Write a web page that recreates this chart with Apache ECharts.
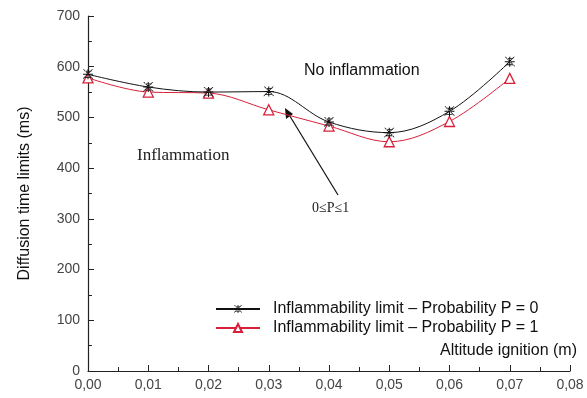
<!DOCTYPE html>
<html><head><meta charset="utf-8">
<script src="https://cdn.jsdelivr.net/npm/echarts@6/dist/echarts.min.js"></script>
<style>html,body{margin:0;padding:0;background:#fff}#c{width:587px;height:398px}</style>
</head><body><div id="c"></div>
<script>
const altitudes = [0.00, 0.01, 0.02, 0.03, 0.04, 0.05, 0.06, 0.07];
const limitP0 = [585, 560, 550, 551, 491, 470, 512, 610];
const limitP1 = [578, 550, 548, 515, 483, 452, 492, 577];
const seriesNames = ['Inflammability limit \u2013 Probability P = 0', 'Inflammability limit \u2013 Probability P = 1'];

const chart = echarts.init(document.getElementById('c'));
const font = '"Liberation Sans", Arial, sans-serif';
const crossPath = 'path://M0,0L10,10L10,9L1,0ZM10,0L0,10L0,9L9,0ZM0,4.5L10,4.5L10,5.5L0,5.5ZM4.5,0L5.5,0L5.5,10L4.5,10ZM1.5,1.5L8.5,1.5L8.5,2.3L1.5,2.3ZM1.5,7.7L8.5,7.7L8.5,8.5L1.5,8.5Z';
chart.setOption({
  animation: false,
  grid: {left: 88, right: 17, top: 16, bottom: 27},
  xAxis: {
    type: 'value', min: 0, max: 0.08, interval: 0.01,
    name: 'Altitude ignition (m)', nameLocation: 'end',
    nameGap: 7,
    nameTextStyle: {fontFamily: font, fontSize: 16, color: '#111', align: 'right', verticalAlign: 'bottom', padding: [0, 0, 12, 0]},
    axisLine: {lineStyle: {color: '#222', width: 1.2}},
    axisTick: {inside: true, length: 6, lineStyle: {color: '#222'}},
    minorTick: {show: true, splitNumber: 2, length: 4, lineStyle: {color: '#222'}},
    axisLabel: {fontFamily: font, fontSize: 14, color: '#444', margin: 7,
      formatter: v => v.toFixed(2).replace('.', ',')},
    splitLine: {show: false}
  },
  yAxis: {
    type: 'value', min: 0, max: 700, interval: 100,
    name: 'Diffusion time limits (ms)', nameLocation: 'middle', nameGap: 55,
    nameTextStyle: {fontFamily: font, fontSize: 16, color: '#111'},
    axisLine: {show: true, lineStyle: {color: '#222', width: 1.2}},
    axisTick: {show: true, inside: true, length: 6, lineStyle: {color: '#222'}},
    minorTick: {show: true, splitNumber: 2, length: 4, lineStyle: {color: '#222'}},
    axisLabel: {fontFamily: font, fontSize: 14, color: '#444', margin: 8},
    splitLine: {show: false}
  },
  legend: {
    orient: 'vertical', left: 215, top: 300, itemGap: 1, padding: 0,
    itemWidth: 44, itemHeight: 10,
    textStyle: {fontFamily: font, fontSize: 16, color: '#111', lineHeight: 18, padding: [0, 0, 0, 8]},
    data: seriesNames
  },
  series: [
    {
      name: seriesNames[0], type: 'line', smooth: 0.35,
      data: altitudes.map((x, i) => [x, limitP0[i]]),
      symbol: crossPath, symbolSize: 10,
      lineStyle: {color: '#111', width: 1},
      itemStyle: {color: '#111', borderWidth: 0},
      z: 3
    },
    {
      name: seriesNames[1], type: 'line', smooth: 0.35,
      data: altitudes.map((x, i) => [x, limitP1[i]]),
      symbol: 'triangle', symbolSize: 10,
      lineStyle: {color: '#d8203a', width: 1},
      itemStyle: {color: '#fff', borderColor: '#d8203a', borderWidth: 1.3},
      z: 2
    }
  ],
  graphic: [
    {type: 'text', left: 304, top: 63, style: {text: 'No inflammation', font: '16px "Liberation Sans", Arial, sans-serif', fill: '#111'}},
    {type: 'text', left: 137, top: 147, style: {text: 'Inflammation', font: '17px "Liberation Serif", "Times New Roman", serif', fill: '#222'}},
    {type: 'text', left: 312, top: 201, style: {text: '0\u2264P\u22641', font: '14px "Liberation Serif", "Times New Roman", serif', fill: '#222'}},
    {type: 'line', shape: {x1: 338, y1: 195, x2: 288, y2: 113}, style: {stroke: '#111', lineWidth: 1.2}},
    {type: 'polygon', shape: {points: [[285, 108], [286, 119], [293, 114]]}, style: {fill: '#111'}}
  ]
});
</script></body></html>
